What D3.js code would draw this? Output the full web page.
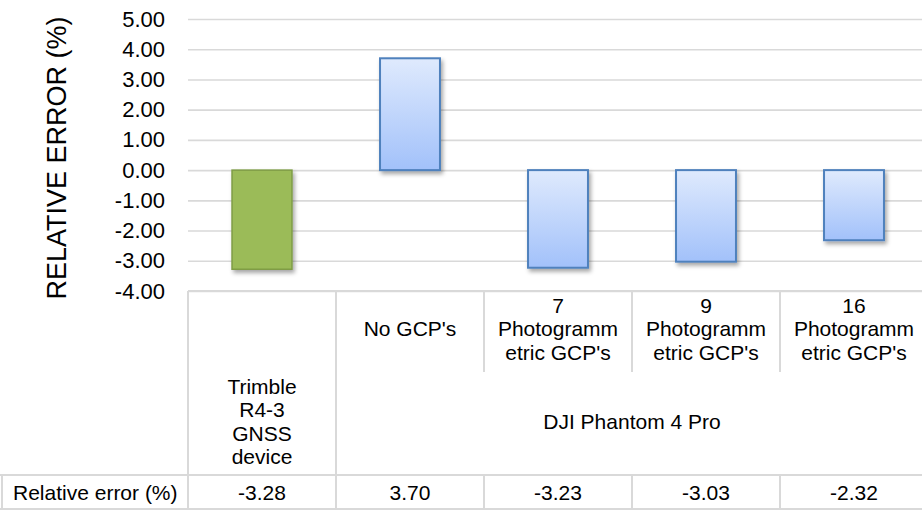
<!DOCTYPE html>
<html>
<head>
<meta charset="utf-8">
<script src="https://cdn.jsdelivr.net/npm/d3@7"></script>
<style>
  body { margin: 0; background: #fff; }
  text { font-family: "Liberation Sans", Arial, sans-serif; fill: #000; }
</style>
</head>
<body>
<div id="content"></div>
<script>
// chart data
var values = [-3.28, 3.70, -3.23, -3.03, -2.32];
var level1_labels = [
    [],
    ["No GCP's"],
    ["7", "Photogramm", "etric GCP's"],
    ["9", "Photogramm", "etric GCP's"],
    ["16", "Photogramm", "etric GCP's"]
];
var group_labels = [["Trimble", "R4-3", "GNSS", "device"], ["DJI Phantom 4 Pro"]];
var group_spans = [1, 4];
var y_ticks = [5, 4, 3, 2, 1, 0, -1, -2, -3, -4];
var row_label = "Relative error (%)";
var y_title = "RELATIVE ERROR (%)";

const width = 922;
const height = 510;
const plot_left = 188;
const col_w = 148;
const plot_top = 19;
const plot_bottom = 291;
const level_split = 372;
const row_top = 475;
const row_bottom = 509;
const grid_color = "#d9d9d9";

var svg = d3
    .select("#content")
    .append("svg")
    .attr("width", width)
    .attr("height", height);

var defs = svg.append("defs");

var grad = defs
    .append("linearGradient")
    .attr("id", "blue_grad")
    .attr("x1", 0).attr("y1", 0)
    .attr("x2", 0).attr("y2", 1);
grad.append("stop").attr("offset", "0%").attr("stop-color", "#dfeafd");
grad.append("stop").attr("offset", "100%").attr("stop-color", "#a2c1fa");

defs.append("filter")
    .attr("id", "shadow")
    .attr("x", "-20%").attr("y", "-20%")
    .attr("width", "150%").attr("height", "150%")
    .append("feDropShadow")
    .attr("dx", 2)
    .attr("dy", 3)
    .attr("stdDeviation", 2)
    .attr("flood-color", "#000")
    .attr("flood-opacity", 0.35);

var x = d3
    .scaleBand()
    .domain(d3.range(values.length))
    .range([plot_left, plot_left + col_w * values.length])
    .padding(0);

var y = d3
    .scaleLinear()
    .domain([-4, 5])
    .range([plot_bottom, plot_top]);

// gridlines + tick labels
var y_axis = svg
    .append("g")
    .attr("transform", "translate(" + plot_left + ",0)")
    .call(
        d3.axisLeft(y)
            .tickValues(y_ticks)
            .tickSize(-(x.range()[1] - plot_left))
            .tickPadding(23)
            .tickFormat(d => d.toFixed(2))
    );
y_axis.select(".domain").remove();
y_axis.selectAll(".tick line")
    .attr("stroke", grid_color)
    .attr("stroke-width", 1.6);
y_axis.selectAll(".tick text")
    .style("font-size", "22px")
    .attr("fill", "#000");

svg.append("text")
    .attr("transform", "translate(57," + ((plot_top + plot_bottom) / 2 + 3) + ") rotate(-90)")
    .attr("text-anchor", "middle")
    .attr("dominant-baseline", "central")
    .style("font-size", "27px")
    .text(y_title);

// bars
var bar_w = x.bandwidth() * 0.405;
svg.append("g")
    .selectAll("rect")
    .data(values)
    .enter()
    .append("rect")
    .attr("x", (d, i) => x(i) + (x.bandwidth() - bar_w) / 2)
    .attr("y", d => y(Math.max(0, d)))
    .attr("width", bar_w)
    .attr("height", d => Math.abs(y(d) - y(0)))
    .attr("fill", (d, i) => i === 0 ? "#9bbb59" : "url(#blue_grad)")
    .attr("stroke", (d, i) => i === 0 ? "#7f9d46" : "#4f81bd")
    .attr("stroke-width", (d, i) => i === 0 ? 1.5 : 2)
    .attr("filter", "url(#shadow)");

// category table lines
var lines = svg.append("g")
    .attr("stroke", grid_color)
    .attr("stroke-width", 2);

lines.append("line")
    .attr("x1", plot_left).attr("x2", width)
    .attr("y1", plot_bottom).attr("y2", plot_bottom);
lines.append("line")
    .attr("x1", 0).attr("x2", width)
    .attr("y1", row_top).attr("y2", row_top);
lines.append("line")
    .attr("x1", 0).attr("x2", width)
    .attr("y1", row_bottom).attr("y2", row_bottom);
lines.append("line")
    .attr("x1", 2).attr("x2", 2)
    .attr("y1", row_top).attr("y2", row_bottom);

// vertical separators: group boundaries run full height, inner ones only the first level
var group_start = [0];
group_spans.forEach((s, i) => group_start.push(group_start[i] + s));
d3.range(values.length + 1).forEach(i => {
    var is_group = group_start.indexOf(i) >= 0;
    var xx = i < values.length ? x(i) : x.range()[1];
    lines.append("line")
        .attr("x1", xx).attr("x2", xx)
        .attr("y1", plot_bottom)
        .attr("y2", is_group ? row_bottom : level_split);
    if (!is_group) {
        lines.append("line")
            .attr("x1", xx).attr("x2", xx)
            .attr("y1", row_top).attr("y2", row_bottom);
    }
});

var line_h = 23.5;

// level 1 labels
svg.append("g")
    .selectAll("text")
    .data(level1_labels)
    .enter()
    .append("text")
    .attr("text-anchor", "middle")
    .style("font-size", "21px")
    .each(function (d, i) {
        var cy = (plot_bottom + level_split) / 2 - 3;
        var y0 = cy - (d.length - 1) * line_h / 2;
        d3.select(this)
            .selectAll("tspan")
            .data(d)
            .enter()
            .append("tspan")
            .attr("x", x(i) + x.bandwidth() / 2)
            .attr("y", (t, j) => y0 + j * line_h)
            .attr("dominant-baseline", "central")
            .text(t => t);
    });

// level 2 (group) labels
svg.append("g")
    .selectAll("text")
    .data(group_labels)
    .enter()
    .append("text")
    .attr("text-anchor", "middle")
    .style("font-size", "21px")
    .each(function (d, i) {
        var x0 = x(group_start[i]);
        var x1 = x0 + group_spans[i] * x.bandwidth();
        var cy = (level_split + row_top) / 2 - 2;
        var y0 = cy - (d.length - 1) * line_h / 2;
        d3.select(this)
            .selectAll("tspan")
            .data(d)
            .enter()
            .append("tspan")
            .attr("x", (x0 + x1) / 2)
            .attr("y", (t, j) => y0 + j * line_h)
            .attr("dominant-baseline", "central")
            .text(t => t);
    });

// data table row
svg.append("text")
    .attr("x", 13)
    .attr("y", (row_top + row_bottom) / 2)
    .attr("dominant-baseline", "central")
    .style("font-size", "21px")
    .text(row_label);

svg.append("g")
    .selectAll("text")
    .data(values)
    .enter()
    .append("text")
    .attr("x", (d, i) => x(i) + x.bandwidth() / 2)
    .attr("y", (row_top + row_bottom) / 2)
    .attr("text-anchor", "middle")
    .attr("dominant-baseline", "central")
    .style("font-size", "21px")
    .text(d => d.toFixed(2));
</script>
</body>
</html>
